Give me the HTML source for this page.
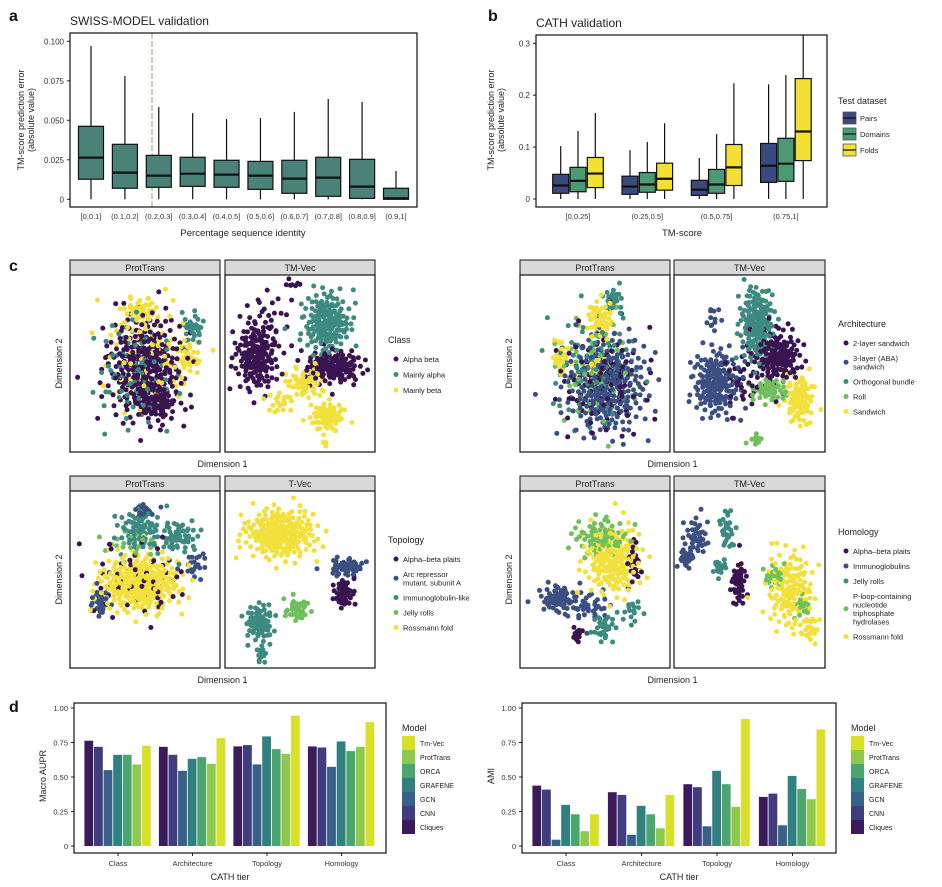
<!DOCTYPE html>
<html><head><meta charset="utf-8"><style>
body{margin:0;background:#fff}
svg{display:block;font-family:"Liberation Sans",sans-serif}
</style></head><body>
<svg id="fig" width="942" height="887" viewBox="0 0 942 887" xmlns="http://www.w3.org/2000/svg">
<g font-weight="bold" font-size="16" fill="#111">
<text x="9" y="21">a</text>
<text x="488" y="21">b</text>
<text x="9" y="271">c</text>
<text x="9" y="712">d</text>
</g>
</svg>
<script>
const NS="http://www.w3.org/2000/svg";
const svg=document.getElementById('fig');
function mk(tag,attrs,parent,txt){const e=document.createElementNS(NS,tag);for(const k in attrs)e.setAttribute(k,attrs[k]);if(txt!==undefined)e.textContent=txt;(parent||svg).appendChild(e);return e;}

/* ---------- Panel a data ---------- */
const aCats=["[0,0.1]","(0.1,0.2]","(0.2,0.3]","(0.3,0.4]","(0.4,0.5]","(0.5,0.6]","(0.6,0.7]","(0.7,0.8]","(0.8,0.9]","(0.9,1]"];
const aMin=[0,0,0,0,0,0,0,0,0,0];
const aQ1=[0.0127,0.007,0.0076,0.0082,0.0076,0.0063,0.0038,0.0019,0.0006,0];
const aMed=[0.0264,0.0169,0.015,0.0162,0.0156,0.015,0.0131,0.0137,0.008,0.0006];
const aQ3=[0.0462,0.0348,0.0278,0.0266,0.0247,0.024,0.0247,0.0266,0.0253,0.007];
const aMax=[0.097,0.078,0.0584,0.0546,0.0508,0.0515,0.0553,0.0635,0.0616,0.0179];
const aTicks=[0,0.025,0.05,0.075,0.1];
const aTickLabels=["0","0.025","0.050","0.075","0.100"];

/* ---------- Panel b data ---------- */
const bCats=["[0,0.25]","(0.25,0.5]","(0.5,0.75]","(0.75,1]"];
const bSeries=["Pairs","Domains","Folds"];
const bMax=[[0.102,0.094,0.079,0.221],[0.131,0.110,0.125,0.239],[0.166,0.146,0.223,0.315]];
const bQ3=[[0.0475,0.044,0.036,0.107],[0.061,0.051,0.057,0.117],[0.080,0.069,0.105,0.232]];
const bMed=[[0.026,0.024,0.018,0.064],[0.035,0.028,0.028,0.068],[0.049,0.039,0.061,0.130]];
const bQ1=[[0.011,0.009,0.007,0.032],[0.014,0.013,0.011,0.034],[0.022,0.017,0.026,0.074]];
const bTicks=[0,0.1,0.2,0.3];
const bTickLabels=["0","0.1","0.2","0.3"];

/* ---------- Panel d data ---------- */
const dTiers=["Class","Architecture","Topology","Homology"];
const dModels=["Cliques","CNN","GCN","GRAFENE","ORCA","ProtTrans","Tm-Vec"];
const dAupr=[[0.763,0.719,0.722,0.722],[0.719,0.661,0.731,0.714],[0.55,0.545,0.591,0.574],[0.661,0.632,0.794,0.758],[0.661,0.644,0.702,0.688],[0.591,0.596,0.668,0.719],[0.726,0.782,0.944,0.898]];
const dAmi=[[0.438,0.39,0.448,0.356],[0.409,0.37,0.426,0.38],[0.046,0.082,0.143,0.15],[0.298,0.291,0.545,0.508],[0.23,0.23,0.448,0.414],[0.107,0.128,0.283,0.339],[0.23,0.37,0.92,0.845]];
const dTicks=[0,0.25,0.5,0.75,1];
const dTickLabels=["0","0.25","0.50","0.75","1.00"];

/* ---------- Panel c data: clusters [cx, cy, sx, sy, count, colour] in panel fractions ---------- */
const cClassLeft=[[0.5,0.52,0.16,0.19,300,0],[0.45,0.55,0.17,0.2,90,1],[0.5,0.45,0.18,0.2,80,2],[0.47,0.2,0.08,0.05,40,2],[0.78,0.47,0.06,0.07,35,2],[0.82,0.3,0.05,0.05,30,1],[0.58,0.72,0.08,0.06,60,0]];
const cClassRight=[[0.21,0.46,0.09,0.12,160,0],[0.68,0.27,0.1,0.11,170,1],[0.72,0.52,0.12,0.06,130,0],[0.54,0.61,0.08,0.06,60,2],[0.68,0.8,0.07,0.05,70,2],[0.45,0.05,0.04,0.02,8,0],[0.67,0.95,0.02,0.01,3,2],[0.36,0.72,0.06,0.05,20,2],[0.3,0.25,0.12,0.1,25,0]];
const cArchLeft=[[0.58,0.62,0.17,0.18,260,1],[0.55,0.6,0.18,0.18,110,0],[0.5,0.55,0.18,0.2,90,2],[0.52,0.55,0.17,0.2,60,3],[0.53,0.25,0.06,0.07,50,4],[0.27,0.46,0.03,0.06,30,4],[0.62,0.14,0.04,0.05,25,2],[0.5,0.52,0.05,0.04,20,4]];
const cArchRight=[[0.55,0.27,0.07,0.13,170,2],[0.28,0.61,0.1,0.12,170,1],[0.68,0.46,0.1,0.1,150,0],[0.63,0.65,0.08,0.04,50,3],[0.83,0.7,0.06,0.09,90,4],[0.55,0.93,0.03,0.02,10,3],[0.26,0.25,0.03,0.05,12,1],[0.45,0.6,0.08,0.1,30,0]];
const cTopoLeft=[[0.47,0.52,0.17,0.1,280,4],[0.47,0.22,0.1,0.08,80,2],[0.73,0.26,0.08,0.06,50,2],[0.2,0.63,0.04,0.05,30,1],[0.45,0.5,0.22,0.13,60,0],[0.49,0.11,0.04,0.03,15,1],[0.4,0.3,0.12,0.05,20,3],[0.83,0.42,0.05,0.05,20,1]];
const cTopoRight=[[0.37,0.24,0.15,0.09,220,4],[0.81,0.43,0.07,0.03,60,1],[0.79,0.58,0.04,0.05,50,0],[0.23,0.75,0.06,0.07,70,2],[0.24,0.92,0.02,0.04,15,2],[0.48,0.67,0.05,0.04,35,3]];
const cHomoLeft=[[0.62,0.39,0.12,0.12,180,4],[0.54,0.26,0.12,0.07,70,3],[0.25,0.61,0.07,0.05,60,1],[0.56,0.77,0.05,0.05,30,2],[0.76,0.41,0.03,0.08,25,0],[0.38,0.81,0.02,0.03,12,0],[0.45,0.65,0.1,0.06,40,1],[0.75,0.68,0.04,0.05,15,2]];
const cHomoRight=[[0.15,0.26,0.05,0.07,40,1],[0.08,0.38,0.03,0.03,25,1],[0.35,0.22,0.03,0.08,30,2],[0.3,0.43,0.03,0.03,15,2],[0.43,0.52,0.03,0.08,45,0],[0.77,0.56,0.1,0.14,140,4],[0.66,0.48,0.04,0.04,25,3],[0.9,0.78,0.03,0.05,20,4],[0.85,0.65,0.04,0.04,15,3]];

const COL5=["#3a1451","#3b4f82","#3d8a81","#6fbf5a","#f2e03c"];
const COL3=["#3a1451","#3d8a81","#f2e03c"];
const BCOL=["#3b4a7e","#4b9a73","#f4e035"];
const DCOL=["#3c1b5c","#3f3d80","#386189","#2f807f","#4ba56f","#8ec94c","#d9e02a"];

/* ===== Panel a ===== */
(function(){
  const g=mk('g',{});
  const L=70,R=417,T=33,B=207;
  const y=v=>199.3-(v/0.1)*158;
  const x=i=>L+21+i*((R-L-42)/9);
  mk('text',{x:70,y:25,'font-size':12,fill:'#222',},g,'SWISS-MODEL validation');
  aTicks.forEach((t,i)=>{
    mk('line',{x1:L-3,x2:L,y1:y(t),y2:y(t),stroke:'#222'},g);
    const tx=mk('text',{x:L-6,y:y(t)+3,'font-size':8,'text-anchor':'end',fill:'#333'},g,aTickLabels[i]);
    
    
  });
  mk('line',{x1:152,x2:152,y1:T,y2:B,stroke:'#7cb462','stroke-dasharray':'6,2','stroke-width':1,},g);
  aCats.forEach((c,i)=>{
    const cx=x(i),w=25;
    const b=mk('g',{},g);
    
    
    mk('line',{x1:cx,x2:cx,y1:y(aMax[i]),y2:y(aMin[i]),stroke:'#111','stroke-width':1.2},b);
    mk('rect',{x:cx-w/2,y:y(aQ3[i]),width:w,height:y(aQ1[i])-y(aQ3[i]),fill:'#4a8279',stroke:'#111','stroke-width':1.2},b);
    mk('line',{x1:cx-w/2,x2:cx+w/2,y1:y(aMed[i]),y2:y(aMed[i]),stroke:'#111','stroke-width':2.2},b);
    const t=mk('text',{x:cx,y:219,'font-size':7.5,'text-anchor':'middle',fill:'#333'},g,c);
    
    
  });
  mk('rect',{x:L,y:T,width:R-L,height:B-T,fill:'none',stroke:'#111','stroke-width':1.2,},g);
  mk('text',{x:243,y:236,'font-size':9.5,'text-anchor':'middle',fill:'#222',},g,'Percentage sequence identity');
  const yt=mk('text',{transform:'translate(24,120) rotate(-90)','font-size':9,'text-anchor':'middle',fill:'#222',},g);
  mk('tspan',{x:0,dy:0},yt,'TM-score prediction error');
  mk('tspan',{x:0,dy:10},yt,'(absolute value)');
})();

/* ===== Panel b ===== */
(function(){
  const g=mk('g',{});
  const L=536,R=827,T=35,B=207;
  const y=v=>199-(v/0.3)*155.7;
  const x=i=>578+i*69.3;
  mk('text',{x:536,y:27,'font-size':12,fill:'#222',},g,'CATH validation');
  bTicks.forEach((t,i)=>{
    mk('line',{x1:L-3,x2:L,y1:y(t),y2:y(t),stroke:'#222'},g);
    const tx=mk('text',{x:L-6,y:y(t)+3,'font-size':8,'text-anchor':'end',fill:'#333'},g,bTickLabels[i]);
    
    
  });
  bCats.forEach((c,i)=>{
    bSeries.forEach((s,j)=>{
      const cx=x(i)+(j-1)*17.3,w=16;
      const b=mk('g',{},g);
      
      
      mk('line',{x1:cx,x2:cx,y1:Math.max(T,y(bMax[j][i])),y2:y(0),stroke:'#111','stroke-width':1.2},b);
      mk('rect',{x:cx-w/2,y:y(bQ3[j][i]),width:w,height:y(bQ1[j][i])-y(bQ3[j][i]),fill:BCOL[j],stroke:'#111','stroke-width':1.2},b);
      mk('line',{x1:cx-w/2,x2:cx+w/2,y1:y(bMed[j][i]),y2:y(bMed[j][i]),stroke:'#111','stroke-width':2.2},b);
    });
    const t=mk('text',{x:x(i),y:219,'font-size':7.5,'text-anchor':'middle',fill:'#333'},g,c);
    
    
  });
  mk('rect',{x:L,y:T,width:R-L,height:B-T,fill:'none',stroke:'#111','stroke-width':1.2,},g);
  mk('text',{x:682,y:236,'font-size':9.5,'text-anchor':'middle',fill:'#222',},g,'TM-score');
  const yt=mk('text',{transform:'translate(494,120) rotate(-90)','font-size':9,'text-anchor':'middle',fill:'#222',},g);
  mk('tspan',{x:0,dy:0},yt,'TM-score prediction error');
  mk('tspan',{x:0,dy:10},yt,'(absolute value)');
  const lg=mk('g',{},g);
  mk('text',{x:838,y:104,'font-size':9,fill:'#222'},lg,'Test dataset');
  bSeries.forEach((s,j)=>{
    const yy=112+j*16;
    const e=mk('g',{},lg);
    
    
    mk('rect',{x:843,y:yy,width:13,height:12,fill:BCOL[j],stroke:'#555','stroke-width':0.8},e);
    mk('line',{x1:843,x2:856,y1:yy+6,y2:yy+6,stroke:'#111','stroke-width':1.2},e);
    mk('text',{x:860,y:yy+9,'font-size':7.5,fill:'#222'},e,s);
  });
})();

/* ===== Panel c ===== */
function halton(i,b){let f=1,r=0;while(i>0){f/=b;r+=f*(i%b);i=Math.floor(i/b);}return r;}
function scatterPanel(px,py,pw,ph,clusters,cols,name){
  const g=mk('g',{});
  
  
  let k=1;
  const pts=[];
  clusters.forEach(c=>{
    for(let n=0;n<c[4];n++,k++){
      const u1=Math.max(halton(k,2),1e-3),u2=halton(k,3);
      const r=Math.sqrt(-2*Math.log(u1))*0.8;
      const fx=c[0]+c[2]*r*Math.cos(2*Math.PI*u2);
      const fy=c[1]+c[3]*r*Math.sin(2*Math.PI*u2);
      if(fx<0.02||fx>0.98||fy<0.02||fy>0.98)continue;
      pts.push([fx,fy,c[5]]);
    }
  });
  pts.sort((a,b)=>halton(Math.round(a[0]*997+a[1]*131),5)-halton(Math.round(b[0]*997+b[1]*131),5));
  pts.forEach(p=>{
    const d=mk('circle',{cx:(px+p[0]*pw).toFixed(1),cy:(py+p[1]*ph).toFixed(1),r:2.5,fill:cols[p[2]]},g);
    
    
  });
}
function facet(x0,x1,x2,x3,top,hdrB,bot,titles,cl,cr,cols,name,legTitle,legItems,legX,legY,legSp){
  const g=mk('g',{});
  [[x0,x1,titles[0]],[x2,x3,titles[1]]].forEach((p,i)=>{
    mk('rect',{x:p[0],y:top,width:p[1]-p[0],height:hdrB-top,fill:'#d9d9d9',stroke:'#111','stroke-width':1,},g);
    mk('text',{x:(p[0]+p[1])/2,y:hdrB-4,'font-size':9,'text-anchor':'middle',fill:'#222',},g,p[2]);
    scatterPanel(p[0],hdrB,p[1]-p[0],bot-hdrB,i?cr:cl,cols,'scatter-'+p[2].toLowerCase());
    mk('rect',{x:p[0],y:hdrB,width:p[1]-p[0],height:bot-hdrB,fill:'none',stroke:'#111','stroke-width':1.2,},g);
  });
  mk('text',{x:(x0+x3)/2,y:bot+15,'font-size':9,'text-anchor':'middle',fill:'#222',},g,'Dimension 1');
  mk('text',{transform:`translate(${x0-8},${(hdrB+bot)/2}) rotate(-90)`,'font-size':9,'text-anchor':'middle',fill:'#222',},g,'Dimension 2');
  const lg=mk('g',{},g);
  mk('text',{x:legX,y:legY,'font-size':9,fill:'#222'},lg,legTitle);
  let yy=legY+16;
  legItems.forEach((it,i)=>{
    const lines=it.split('|');
    const e=mk('g',{},lg);
    
    
    const h=(lines.length-1)*8.5;
    mk('circle',{cx:legX+8,cy:yy+h/2,r:2.5,fill:cols[i]},e);
    lines.forEach((ln,j)=>mk('text',{x:legX+15,y:yy+3+j*8.5,'font-size':7.5,fill:'#222'},e,ln));
    yy+=legSp+h;
  });
}
facet(70,220,225,375,260,275,452,["ProtTrans","TM-Vec"],cClassLeft,cClassRight,COL3,'panel-c-class','Class',["Alpha beta","Mainly alpha","Mainly beta"],388,343,15.5);
facet(520,670,674,825,260,275,452,["ProtTrans","TM-Vec"],cArchLeft,cArchRight,COL5,'panel-c-architecture','Architecture',["2-layer sandwich","3-layer (ABA)|sandwich","Orthogonal bundle","Roll","Sandwich"],838,327,15);
facet(70,220,225,375,476,491,668,["ProtTrans","T-Vec"],cTopoLeft,cTopoRight,COL5,'panel-c-topology','Topology',["Alpha\u2013beta plaits","Arc repressor|mutant, subunit A","Immunoglobulin-like","Jelly rolls","Rossmann fold"],388,543,15);
facet(520,670,674,825,476,491,668,["ProtTrans","TM-Vec"],cHomoLeft,cHomoRight,COL5,'panel-c-homology','Homology',["Alpha\u2013beta plaits","Immunoglobulins","Jelly rolls","P-loop-containing|nucleotide|triphosphate|hydrolases","Rossmann fold"],838,535,15);

/* ===== Panel d ===== */
function barPanel(L,R,c0,sp,vals,ylab,name,legX){
  const g=mk('g',{});
  const T=703,B=853;
  const y=v=>846-v*138;
  dTicks.forEach((t,i)=>{
    mk('line',{x1:L-3,x2:L,y1:y(t),y2:y(t),stroke:'#222'},g);
    const tx=mk('text',{x:L-6,y:y(t)+3,'font-size':7.5,'text-anchor':'end',fill:'#333'},g,dTickLabels[i]);
    
    
  });
  const bw=9.6;
  dTiers.forEach((tier,i)=>{
    const cx=c0+i*sp;
    dModels.forEach((m,j)=>{
      const bx=cx+(j-3.5)*bw;
      const r=mk('rect',{x:bx.toFixed(1),y:y(vals[j][i]).toFixed(1),width:bw-0.8,height:(y(0)-y(vals[j][i])).toFixed(1),fill:DCOL[j]},g);
      
      
    });
    const t=mk('text',{x:cx,y:866,'font-size':7.5,'text-anchor':'middle',fill:'#333'},g,tier);
    
    
    mk('line',{x1:cx,x2:cx,y1:B,y2:B+3,stroke:'#222'},g);
  });
  mk('rect',{x:L,y:T,width:R-L,height:B-T,fill:'none',stroke:'#111','stroke-width':1.2,},g);
  mk('text',{x:(L+R)/2,y:880,'font-size':9,'text-anchor':'middle',fill:'#222',},g,'CATH tier');
  mk('text',{transform:`translate(${L-28},776) rotate(-90)`,'font-size':9,'text-anchor':'middle',fill:'#222',},g,ylab);
  const lg=mk('g',{},g);
  mk('text',{x:legX,y:731,'font-size':9,fill:'#222'},lg,'Model');
  for(let j=6;j>=0;j--){
    const yy=736+(6-j)*14;
    const e=mk('g',{},lg);
    
    
    mk('rect',{x:legX,y:yy,width:13,height:14,fill:DCOL[j]},e);
    mk('text',{x:legX+18,y:yy+10,'font-size':7,fill:'#222'},e,dModels[j]);
  }
}
barPanel(74,386,118,74.5,dAupr,'Macro AUPR','panel-d-aupr',402);
barPanel(522,836,566,75.5,dAmi,'AMI','panel-d-ami',851);
</script>
</body></html>
